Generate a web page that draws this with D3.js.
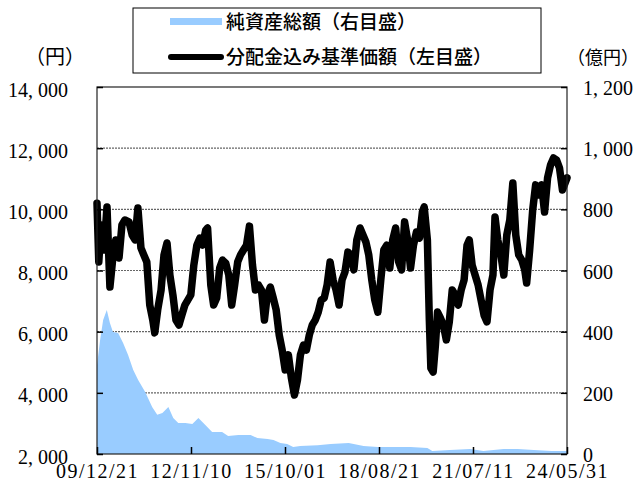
<!DOCTYPE html>
<html>
<head>
<meta charset="utf-8">
<script src="https://cdn.jsdelivr.net/npm/d3@7"></script>
<style>
  body { margin: 0; background: #fff; }
  svg { display: block; }
</style>
</head>
<body>
<div id="wrapper"></div>
<script>
/* data */
const navDates = ["2009-12-21","2010-01-10","2010-02-05","2010-03-10","2010-04-12","2010-05-15","2010-06-20","2010-07-20","2010-08-25","2010-09-27","2010-10-30","2010-12-15","2011-01-20","2011-02-21","2011-03-25","2011-04-28","2011-05-30","2011-07-03","2011-08-05","2011-09-08","2011-09-30","2011-11-02","2011-12-10","2012-01-12","2012-02-15","2012-03-18","2012-04-21","2012-05-25","2012-06-28","2012-07-30","2012-09-02","2012-10-05","2012-11-08","2012-12-12","2013-01-15","2013-02-17","2013-03-21","2013-04-24","2013-05-15","2013-06-20","2013-07-22","2013-08-25","2013-09-28","2013-10-30","2013-12-05","2014-01-08","2014-02-10","2014-03-15","2014-04-18","2014-05-20","2014-06-22","2014-07-26","2014-08-28","2014-10-01","2014-11-03","2014-12-06","2015-01-10","2015-02-12","2015-03-16","2015-04-19","2015-05-22","2015-06-24","2015-07-28","2015-08-30","2015-10-03","2015-11-08","2015-12-12","2016-01-15","2016-02-18","2016-03-22","2016-04-25","2016-05-28","2016-06-30","2016-08-02","2016-09-05","2016-10-08","2016-11-10","2016-12-14","2017-01-16","2017-02-18","2017-03-24","2017-04-26","2017-05-30","2017-07-02","2017-08-04","2017-09-06","2017-10-10","2017-11-12","2017-12-15","2018-01-20","2018-02-22","2018-03-27","2018-04-28","2018-06-01","2018-07-05","2018-08-08","2018-09-10","2018-10-14","2018-11-16","2018-12-20","2019-01-22","2019-02-24","2019-03-30","2019-05-02","2019-06-04","2019-07-08","2019-08-10","2019-09-12","2019-10-15","2019-11-18","2019-12-21","2020-01-10","2020-02-15","2020-03-08","2020-03-25","2020-04-20","2020-05-15","2020-06-08","2020-07-10","2020-08-12","2020-09-15","2020-10-18","2020-11-20","2020-12-24","2021-01-26","2021-02-28","2021-04-02","2021-05-05","2021-05-30","2021-07-01","2021-08-04","2021-09-06","2021-10-10","2021-11-12","2021-12-15","2022-01-18","2022-02-20","2022-03-15","2022-04-15","2022-05-20","2022-06-22","2022-07-25","2022-08-28","2022-10-01","2022-11-03","2022-12-06","2023-01-10","2023-02-12","2023-03-05","2023-04-08","2023-05-12","2023-06-14","2023-07-18","2023-08-20","2023-09-22","2023-10-26","2023-11-28","2024-01-01","2024-02-04","2024-03-08","2024-04-10","2024-05-31"];
const navValues = [10200,8280,9490,8670,10080,7460,8510,9000,8410,9490,9650,9590,9160,9000,10040,8740,8510,8280,6870,6380,5960,6710,7360,8510,8900,7850,7200,6380,6220,6540,6870,7030,7200,8180,8830,9060,8830,9320,9390,7530,6870,7100,8080,8340,8240,7850,6870,7530,8280,8510,8670,8830,9450,8180,7360,7530,7360,6380,7200,7460,7100,6710,5890,5400,4750,5240,4480,3930,4420,5240,5560,5400,5890,6220,6380,6640,7030,7100,7530,8280,7690,7360,6870,7690,7950,8600,8510,8020,9000,9390,9160,8930,8510,7690,7030,6640,7690,8670,8830,8080,9000,9390,8280,8020,9590,9000,8080,8830,9260,9060,9910,10080,9000,6380,4810,4680,5560,6640,6450,6220,5730,6320,7360,7200,6870,7360,7690,8830,9000,8180,7850,7530,7030,6540,6320,7360,7850,9750,9000,8510,7850,9160,9650,10860,9160,8510,8340,8020,7590,8670,9980,10800,10470,10800,9910,11030,11450,11680,11610,11350,10630,11030];

const assetDates = ["2009-12-21","2010-01-25","2010-02-28","2010-04-10","2010-05-15","2010-06-18","2010-08-15","2010-10-10","2010-12-05","2011-02-01","2011-03-28","2011-06-15","2011-09-01","2011-10-28","2011-12-25","2012-03-01","2012-04-25","2012-06-20","2012-09-08","2012-11-25","2013-02-01","2013-04-20","2013-07-05","2013-10-25","2014-01-01","2014-04-25","2014-09-10","2014-11-25","2015-03-20","2015-05-25","2015-08-10","2015-10-25","2016-01-01","2016-03-20","2016-10-01","2017-02-25","2017-09-15","2018-03-01","2018-08-05","2018-12-28","2019-08-10","2020-02-15","2020-04-10","2020-10-25","2021-06-10","2021-11-05","2022-06-20","2022-11-25","2023-05-25","2023-12-10","2024-05-31"];
const assetValues = [290,373,438,471,428,399,396,363,324,275,242,203,154,128,134,154,118,101,101,98,118,95,72,72,59,62,62,52,49,46,36,33,23,26,29,33,36,26,23,23,23,20,10,13,16,10,16,16,13,10,10];

const xTickLabels = ["09/12/21","12/11/10","15/10/01","18/08/21","21/07/11","24/05/31"];
const leftTicks = [2000,4000,6000,8000,10000,12000,14000];
const rightTicks = [0,200,400,600,800,1000,1200];
const legendLabels = ["純資産総額（右目盛）","分配金込み基準価額（左目盛）"];

const parseDay = d3.timeParse("%Y-%m-%d");
const parseTick = d3.timeParse("%y/%m/%d");

const nav = navDates.map((d, i) => ({date: parseDay(d), value: navValues[i]}));
const assets = assetDates.map((d, i) => ({date: parseDay(d), value: assetValues[i]}));
const tickDates = xTickLabels.map(parseTick);

/* canvas */
const screenW = 638, screenH = 486;
const plotL = 97, plotR = 567, plotT = 87, plotB = 454;

const svg = d3.select("#wrapper").append("svg")
  .attr("width", screenW)
  .attr("height", screenH);

/* scales */
const x = d3.scaleTime()
  .domain([tickDates[0], tickDates[tickDates.length - 1]])
  .range([plotL, plotR]);
const yLeft = d3.scaleLinear().domain([2000, 14000]).range([plotB, plotT]);
const yRight = d3.scaleLinear().domain([0, 1200]).range([plotB, plotT]);

const numFont = "'Liberation Serif', 'DejaVu Serif', serif";
const jpFont = "'Noto Sans CJK JP', sans-serif";
const commaFmt = v => d3.format(",")(v).replace(",", ", ");

/* gridlines (under the area) */
svg.append("g")
  .selectAll("line")
  .data(leftTicks.slice(1, -1))
  .join("line")
  .attr("x1", plotL).attr("x2", plotR)
  .attr("y1", d => yLeft(d)).attr("y2", d => yLeft(d))
  .attr("stroke", "#666")
  .attr("stroke-width", 1.2)
  .attr("stroke-dasharray", "2,1");

/* net assets area */
const area = d3.area()
  .x(d => x(d.date))
  .y0(yRight(0))
  .y1(d => yRight(d.value));

svg.append("path")
  .datum(assets)
  .attr("d", area)
  .attr("fill", "#99ccff");

/* nav line */
const line = d3.line()
  .x(d => x(d.date))
  .y(d => yLeft(d.value));

svg.append("path")
  .datum(nav)
  .attr("d", line)
  .attr("fill", "none")
  .attr("stroke", "#000")
  .attr("stroke-width", 7.5)
  .attr("stroke-linejoin", "round")
  .attr("stroke-linecap", "round");

/* frame */
svg.append("rect")
  .attr("x", plotL).attr("y", plotT)
  .attr("width", plotR - plotL).attr("height", plotB - plotT)
  .attr("fill", "none")
  .attr("stroke", "#222")
  .attr("stroke-width", 1.2);

/* axes with inward ticks */
const leftAxis = d3.axisLeft(yLeft).tickValues(leftTicks).tickSize(-6).tickFormat(commaFmt).tickPadding(29);
const rightAxis = d3.axisRight(yRight).tickValues(rightTicks).tickSize(-6).tickFormat(commaFmt).tickPadding(16);
const bottomAxis = d3.axisBottom(x).tickValues(tickDates).tickSize(-7).tickFormat((d, i) => xTickLabels[i]).tickPadding(10);

function styleAxis(g) {
  g.select(".domain").remove();
  g.selectAll(".tick line").attr("stroke", "#000").attr("stroke-width", 1.5);
  g.selectAll("text")
    .attr("font-family", numFont)
    .attr("font-size", 20)
    .attr("fill", "#000");
}

svg.append("g").attr("transform", `translate(${plotL},0)`).call(leftAxis).call(styleAxis)
  .selectAll("text").attr("dy", "0.45em");
svg.append("g").attr("transform", `translate(${plotR},0)`).call(rightAxis).call(styleAxis)
  .selectAll("text").attr("dy", "0.38em").attr("text-anchor", "start");
svg.append("g").attr("transform", `translate(0,${plotB})`).call(bottomAxis).call(styleAxis)
  .selectAll("text").attr("letter-spacing", 1.5);

/* unit labels */
svg.append("text")
  .attr("x", 55).attr("y", 64)
  .attr("text-anchor", "middle")
  .attr("font-family", jpFont).attr("font-size", 20)
  .text("（円）");
svg.append("text")
  .attr("x", 603).attr("y", 64)
  .attr("text-anchor", "middle")
  .attr("font-family", jpFont).attr("font-size", 18)
  .text("（億円）");

/* legend */
const legend = svg.append("g");
legend.append("rect")
  .attr("x", 133).attr("y", 8)
  .attr("width", 408).attr("height", 65)
  .attr("fill", "#fff")
  .attr("stroke", "#000")
  .attr("stroke-width", 1);
legend.append("rect")
  .attr("x", 170).attr("y", 18)
  .attr("width", 52).attr("height", 7)
  .attr("fill", "#99ccff");
legend.append("line")
  .attr("x1", 171).attr("x2", 221)
  .attr("y1", 57).attr("y2", 57)
  .attr("stroke", "#000")
  .attr("stroke-width", 6)
  .attr("stroke-linecap", "round");
legend.selectAll(".legText")
  .data(legendLabels)
  .join("text")
  .attr("class", "legText")
  .attr("x", 226)
  .attr("y", (d, i) => i === 0 ? 29 : 64)
  .attr("font-family", jpFont)
  .attr("font-size", 19)
  .attr("font-weight", 500)
  .text(d => d);
</script>
</body>
</html>
